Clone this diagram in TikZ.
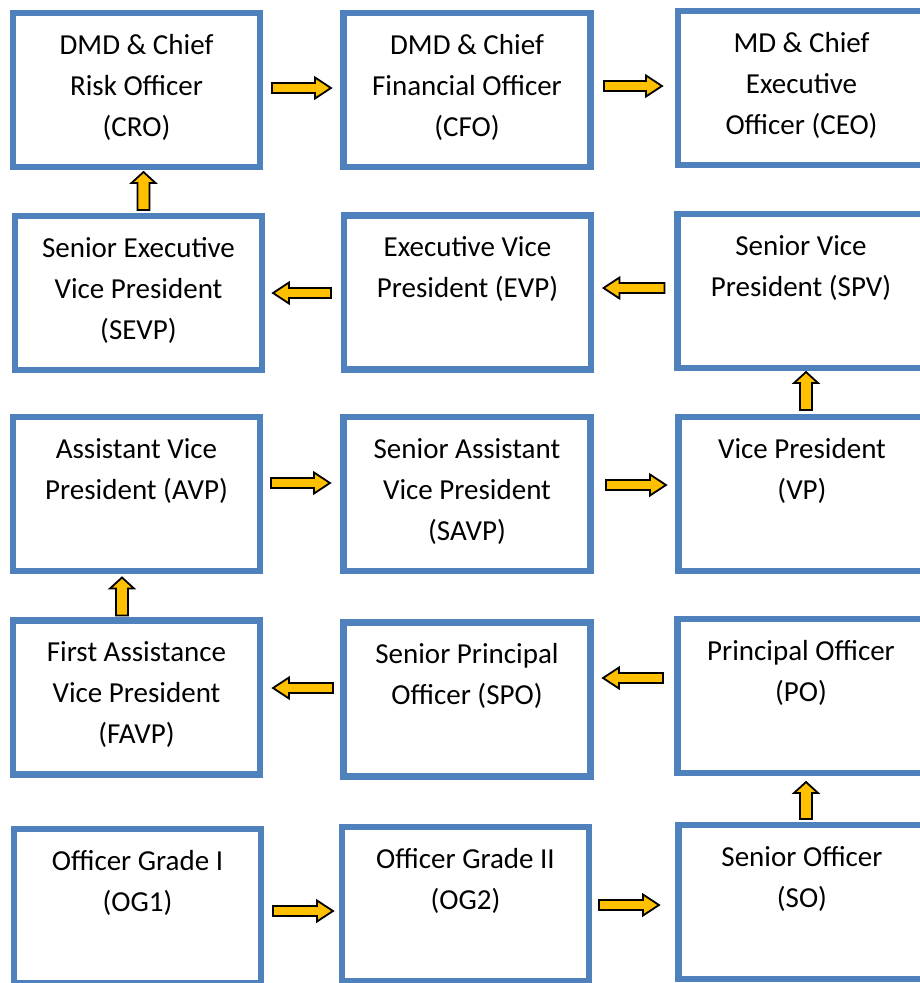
\documentclass[tikz,border=0pt]{standalone}
\usepackage{fontspec}
\setmainfont{Carlito}
\usetikzlibrary{calc}
\definecolor{boxblue}{RGB}{79,129,189}
\definecolor{arrowgold}{RGB}{255,192,0}
\newcommand\boxtxt[1]{\parbox[c][154pt][t]{247pt}{\centering\fontsize{29}{41}\selectfont\rule{0pt}{41pt}#1}}
% #1 tail point, #2 angle, #3 length, #4 shaft half width, #5 head half width, #6 head length
\newcommand\barrow[6]{%
  \draw[blockarrow, shift={#1}, rotate=#2] (0,-#4) -- ({#3-#6},-#4) -- ({#3-#6},-#5) -- (#3,0) -- ({#3-#6},#5) -- ({#3-#6},#4) -- (0,#4) -- cycle;}
\begin{document}
\begin{tikzpicture}[x=1pt,y=-1pt,
  box/.style={draw=boxblue, line width=6.5pt, fill=white, inner sep=0pt, outer sep=0pt},
  blockarrow/.style={fill=arrowgold, draw=black, line width=1.8pt, line join=miter}]
\useasboundingbox (0,0) rectangle (920,983);
\clip (0,0) rectangle (920,983);
% row 1
\node[box] (cro)  at (136.5,90)  {\boxtxt{DMD \& Chief\\Risk Officer\\(CRO)}};
\node[box] (cfo)  at (467,90)    {\boxtxt{DMD \& Chief\\Financial Officer\\(CFO)}};
\node[box] (ceo)  at (801.5,88)  {\boxtxt{MD \& Chief\\Executive\\Officer (CEO)}};
% row 2
\node[box] (sevp) at (138.5,293) {\boxtxt{Senior Executive\\Vice President\\(SEVP)}};
\node[box] (evp)  at (467.5,292.5) {\boxtxt{Executive Vice\\President (EVP)}};
\node[box] (spv)  at (801,291)   {\boxtxt{Senior Vice\\President (SPV)}};
% row 3
\node[box] (avp)  at (136.5,494) {\boxtxt{Assistant Vice\\President (AVP)}};
\node[box] (savp) at (467,494)   {\boxtxt{Senior Assistant\\Vice President\\(SAVP)}};
\node[box] (vp)   at (802,494)   {\boxtxt{Vice President\\(VP)}};
% row 4
\node[box] (favp) at (136.5,697.5) {\boxtxt{First Assistance\\Vice President\\(FAVP)}};
\node[box] (spo)  at (467,699.5) {\boxtxt{Senior Principal\\Officer (SPO)}};
\node[box] (po)   at (801,696)   {\boxtxt{Principal Officer\\(PO)}};
% row 5
\node[box] (og1)  at (137.5,906) {\boxtxt{Officer Grade I\\(OG1)}};
\node[box] (og2)  at (465.5,904) {\boxtxt{Officer Grade II\\(OG2)}};
\node[box] (so)   at (802,902)   {\boxtxt{Senior Officer\\(SO)}};
% horizontal block arrows
\barrow{($(cro.east)+(12,-2)$)}{0}{59}{5}{10.5}{16}
\barrow{($(cfo.east)+(13.5,-4)$)}{0}{58}{5}{10.5}{16}
\barrow{($(spv.west)+(-13,-3)$)}{180}{61}{5}{10.5}{16}
\barrow{($(evp.west)+(-13,0.5)$)}{180}{58}{5}{10.5}{16}
\barrow{($(avp.east)+(11,-11)$)}{0}{59}{5}{10.5}{16}
\barrow{($(savp.east)+(15.5,-9)$)}{0}{60}{5}{10.5}{16}
\barrow{($(po.west)+(-14.5,-18)$)}{180}{60}{5}{10.5}{16}
\barrow{($(spo.west)+(-10.5,-11.5)$)}{180}{60}{5}{10.5}{16}
\barrow{($(og1.east)+(12,5)$)}{0}{60}{5}{10.5}{16}
\barrow{($(og2.east)+(10,1)$)}{0}{60}{5}{10.5}{16}
% vertical block arrows
\barrow{($(sevp.north)+(5,-6)$)}{90}{38}{6}{12}{11}
\barrow{($(vp.north)+(4,-7)$)}{90}{38}{6}{12}{11}
\barrow{($(favp.north)+(-14.5,-5)$)}{90}{38}{6}{12}{11}
\barrow{($(so.north)+(4,-6)$)}{90}{37}{6}{12}{11}
\end{tikzpicture}
\end{document}
